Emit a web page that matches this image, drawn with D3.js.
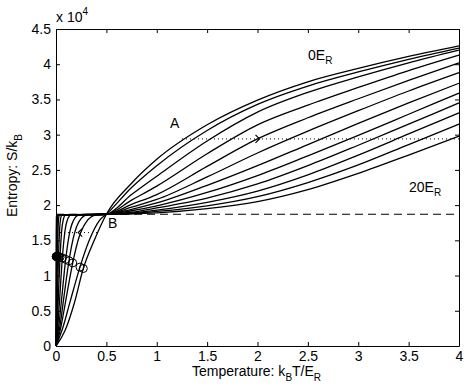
<!DOCTYPE html>
<html>
<head>
    <meta charset="utf-8">
    <title>Entropy vs temperature</title>
    <style>
        body { margin: 0; background: #fff; }
        text { font-family: "Liberation Sans", Arial, sans-serif; }
    </style>
</head>
<body>
    <script src="https://cdnjs.cloudflare.com/ajax/libs/d3/7.9.0/d3.min.js"></script>
    <script>
        const width = 471;
        const height = 389;
        const margin = {top: 29, right: 12, bottom: 43, left: 56};

        // entropy values are in units of 10^4 k_B (axis shows "x 10^4")
        // curves go from 0E_R (index 0, top at high T) to 20E_R (index 11)
        const coldT = [
            [0, 0.09, 0.18, 0.271, 0.38],
            [0, 0.07, 0.14, 0.238, 0.33, 0.43],
            [0, 0.05, 0.10, 0.166, 0.23, 0.30, 0.40],
            [0, 0.04, 0.078, 0.129, 0.18, 0.23, 0.31],
            [0, 0.029, 0.058, 0.096, 0.134, 0.173, 0.23],
            [0, 0.019, 0.038, 0.063, 0.088, 0.113, 0.15],
            [0, 0.012, 0.024, 0.040, 0.056, 0.072, 0.096],
            [0, 0.0075, 0.015, 0.025, 0.035, 0.045, 0.06],
            [0, 0.004, 0.008, 0.014, 0.020, 0.025, 0.034],
            [0, 0.0024, 0.0048, 0.008, 0.011, 0.014, 0.019],
            [0, 0.0012, 0.0024, 0.004, 0.0056, 0.0072, 0.0096],
            [0, 0.0006, 0.0012, 0.002, 0.0028, 0.0036, 0.0048]
        ];
        const coldS = [
            [0, 0.22, 0.60, 1.10, 1.50],
            [0, 0.27, 0.63, 1.12, 1.50, 1.78],
            [0, 0.28, 0.67, 1.18, 1.55, 1.76, 1.86],
            [0, 0.29, 0.69, 1.21, 1.58, 1.77, 1.86],
            [0, 0.30, 0.70, 1.23, 1.60, 1.78, 1.86],
            [0, 0.30, 0.71, 1.25, 1.62, 1.79, 1.86],
            [0, 0.30, 0.72, 1.26, 1.63, 1.79, 1.86],
            [0, 0.30, 0.72, 1.27, 1.63, 1.80, 1.86],
            [0, 0.31, 0.73, 1.27, 1.64, 1.80, 1.86],
            [0, 0.31, 0.73, 1.27, 1.64, 1.80, 1.86],
            [0, 0.31, 0.73, 1.27, 1.64, 1.80, 1.86],
            [0, 0.31, 0.73, 1.27, 1.64, 1.80, 1.86]
        ];
        const warmT = [0.5, 0.75, 1, 1.5, 2, 2.5, 3, 3.5, 4];
        const warmS = [
            [1.87, 2.31, 2.65, 3.14, 3.49, 3.75, 3.94, 4.11, 4.26],
            [1.87, 2.25, 2.56, 3.06, 3.43, 3.69, 3.89, 4.07, 4.23],
            [1.87, 2.15, 2.41, 2.91, 3.32, 3.60, 3.82, 4.02, 4.20],
            [1.87, 2.07, 2.27, 2.73, 3.14, 3.42, 3.67, 3.91, 4.13],
            [1.87, 2.01, 2.15, 2.55, 2.94, 3.24, 3.51, 3.77, 4.02],
            [1.87, 1.97, 2.08, 2.40, 2.74, 3.05, 3.34, 3.62, 3.88],
            [1.87, 1.94, 2.03, 2.28, 2.56, 2.86, 3.16, 3.45, 3.73],
            [1.87, 1.92, 1.99, 2.18, 2.42, 2.70, 2.99, 3.29, 3.59],
            [1.87, 1.90, 1.96, 2.10, 2.30, 2.56, 2.85, 3.15, 3.45],
            [1.87, 1.89, 1.93, 2.04, 2.20, 2.43, 2.71, 3.01, 3.31],
            [1.87, 1.88, 1.91, 1.99, 2.12, 2.32, 2.57, 2.86, 3.15],
            [1.87, 1.875, 1.89, 1.95, 2.05, 2.22, 2.45, 2.71, 2.98]
        ];
        // circle markers on the rising part of each curve
        const markT = [0.271, 0.238, 0.166, 0.129, 0.096, 0.063, 0.04, 0.025, 0.014, 0.008, 0.004, 0.002];
        const markS = [1.10, 1.12, 1.18, 1.21, 1.23, 1.25, 1.26, 1.27, 1.27, 1.27, 1.27, 1.27];

        const plateauS = 1.87;
        const upperPathS = 2.94, upperPathT = [1.25, 4], upperArrowT = 2.0;
        const lowerPathS = 1.61, lowerPathT = [0.04, 0.42], lowerArrowT = 0.24;

        const xTicks = [0, 0.5, 1, 1.5, 2, 2.5, 3, 3.5, 4];
        const xTickLabels = ["0", "0.5", "1", "1.5", "2", "2.5", "3", "3.5", "4"];
        const yTicks = [0, 0.5, 1, 1.5, 2, 2.5, 3, 3.5, 4, 4.5];
        const yTickLabels = ["0", "0.5", "1", "1.5", "2", "2.5", "3", "3.5", "4", "4.5"];

        const svg = d3.select("body")
            .append("svg")
            .attr("width", width)
            .attr("height", height);

        const x = d3.scaleLinear()
            .domain([0, 4])
            .range([margin.left, width - margin.right]);

        const y = d3.scaleLinear()
            .domain([0, 4.5])
            .range([height - margin.bottom, margin.top]);

        // axes, ticks pointing inward like a MATLAB box
        svg.append("g")
            .attr("transform", `translate(0,${height - margin.bottom})`)
            .call(d3.axisBottom(x).tickValues(xTicks).tickFormat((d, i) => xTickLabels[i])
                .tickSizeInner(-4).tickSizeOuter(0).tickPadding(5))
            .call(g => g.selectAll("text").attr("font-size", 14).attr("fill", "#000"));

        svg.append("g")
            .attr("transform", `translate(${margin.left},0)`)
            .call(d3.axisLeft(y).tickValues(yTicks).tickFormat((d, i) => yTickLabels[i])
                .tickSizeInner(-4).tickSizeOuter(0).tickPadding(5))
            .call(g => g.selectAll("text").attr("font-size", 14).attr("fill", "#000"));

        svg.append("g")
            .attr("transform", `translate(0,${margin.top})`)
            .call(d3.axisTop(x).tickValues(xTicks).tickFormat("")
                .tickSizeInner(-4).tickSizeOuter(0));

        svg.append("g")
            .attr("transform", `translate(${width - margin.right},0)`)
            .call(d3.axisRight(y).tickValues(yTicks).tickFormat("")
                .tickSizeInner(-4).tickSizeOuter(0));

        // dashed plateau line
        svg.append("line")
            .attr("x1", x(0)).attr("x2", x(4))
            .attr("y1", y(plateauS)).attr("y2", y(plateauS))
            .attr("stroke", "#000")
            .attr("stroke-width", 1.2)
            .attr("stroke-dasharray", "8,5");

        // dotted process lines
        svg.append("line")
            .attr("x1", x(upperPathT[0])).attr("x2", x(upperPathT[1]))
            .attr("y1", y(upperPathS)).attr("y2", y(upperPathS))
            .attr("stroke", "#000").attr("stroke-width", 1)
            .attr("stroke-dasharray", "1,3");

        svg.append("line")
            .attr("x1", x(lowerPathT[0])).attr("x2", x(lowerPathT[1]))
            .attr("y1", y(lowerPathS)).attr("y2", y(lowerPathS))
            .attr("stroke", "#000").attr("stroke-width", 1)
            .attr("stroke-dasharray", "1,3");

        // arrow heads
        svg.append("path")
            .attr("d", `M${x(upperArrowT) - 2},${y(upperPathS) - 4} L${x(upperArrowT) + 2},${y(upperPathS)} L${x(upperArrowT) - 2},${y(upperPathS) + 4}`)
            .attr("fill", "none").attr("stroke", "#000").attr("stroke-width", 1.2);

        svg.append("path")
            .attr("d", `M${x(lowerArrowT) + 2},${y(lowerPathS) - 4} L${x(lowerArrowT) - 2},${y(lowerPathS)} L${x(lowerArrowT) + 2},${y(lowerPathS) + 4}`)
            .attr("fill", "none").attr("stroke", "#000").attr("stroke-width", 1.2);

        // curves
        const line = d3.line()
            .x(d => x(d[0]))
            .y(d => y(d[1]))
            .curve(d3.curveMonotoneX);

        const curves = coldT.map((ts, i) => {
            const pts = ts.map((t, j) => [t, coldS[i][j]]);
            return pts.concat(warmT.map((t, j) => [t, warmS[i][j]]));
        });

        svg.selectAll(".curve")
            .data(curves)
            .enter()
            .append("path")
            .attr("class", "curve")
            .attr("d", line)
            .attr("fill", "none")
            .attr("stroke", "#000")
            .attr("stroke-width", 1.3);

        svg.selectAll(".mark")
            .data(markT)
            .enter()
            .append("circle")
            .attr("class", "mark")
            .attr("cx", d => x(d))
            .attr("cy", (d, i) => y(markS[i]))
            .attr("r", 4)
            .attr("fill", d => d < 0.02 ? "#000" : "none")
            .attr("stroke", "#000")
            .attr("stroke-width", 1);

        // labels
        svg.append("text")
            .attr("x", x(0)).attr("y", 22)
            .attr("font-size", 14)
            .text("x 10")
            .append("tspan")
            .attr("dy", -7).attr("font-size", 10)
            .text("4");

        svg.append("text")
            .attr("x", 170).attr("y", 128)
            .attr("font-size", 14)
            .text("A");

        svg.append("text")
            .attr("x", 108).attr("y", 228)
            .attr("font-size", 14)
            .text("B");

        const lab0 = svg.append("text")
            .attr("x", 308).attr("y", 60)
            .attr("font-size", 14)
            .text("0E");
        lab0.append("tspan").attr("dy", 4).attr("font-size", 10).text("R");

        const lab20 = svg.append("text")
            .attr("x", 409).attr("y", 192)
            .attr("font-size", 14)
            .text("20E");
        lab20.append("tspan").attr("dy", 4).attr("font-size", 10).text("R");

        const xl = svg.append("text")
            .attr("x", 192).attr("y", 376)
            .attr("font-size", 14)
            .text("Temperature: k");
        xl.append("tspan").attr("dy", 5).attr("font-size", 10).text("B");
        xl.append("tspan").attr("dy", -5).text("T/E");
        xl.append("tspan").attr("dy", 5).attr("font-size", 10).text("R");

        const yl = svg.append("text")
            .attr("transform", `translate(17,${(y(0) + y(4.5)) / 2 - 12}) rotate(-90)`)
            .attr("text-anchor", "middle")
            .attr("font-size", 14)
            .text("Entropy: S/k");
        yl.append("tspan").attr("dy", 5).attr("font-size", 10).text("B");
    </script>
</body>
</html>
